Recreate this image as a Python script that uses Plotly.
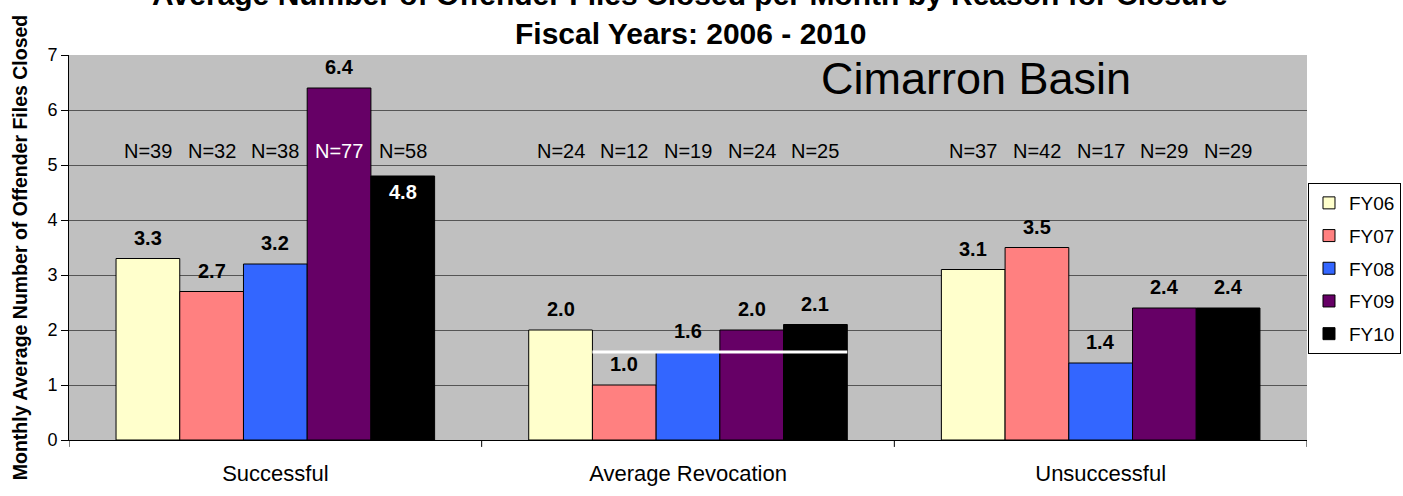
import plotly.graph_objects as go

categories = ["Successful", "Average Revocation", "Unsuccessful"]
series_names = ["FY06", "FY07", "FY08", "FY09", "FY10"]
colors = ["#FFFFCC", "#FF8080", "#3366FF", "#660066", "#000000"]
values = {
    "FY06": [3.3, 2.0, 3.1],
    "FY07": [2.7, 1.0, 3.5],
    "FY08": [3.2, 1.6, 1.4],
    "FY09": [6.4, 2.0, 2.4],
    "FY10": [4.8, 2.1, 2.4],
}
n_counts = {
    "FY06": [39, 24, 37],
    "FY07": [32, 12, 42],
    "FY08": [38, 19, 17],
    "FY09": [77, 24, 29],
    "FY10": [58, 25, 29],
}
# value labels drawn inside the bar top (white) instead of above it
inside_labels = {("FY10", 0)}
n_label_y = 5.25
avg_line_value = 1.6

FONT = "Liberation Sans, Arial, sans-serif"
bargap = 0.228
nser = len(series_names)
bw = (1 - bargap) / nser

fig = go.Figure()
for i, s in enumerate(series_names):
    fig.add_trace(go.Bar(
        name=s, x=list(range(len(categories))), y=values[s],
        marker=dict(color=colors[i], line=dict(color="black", width=1)),
        legendgroup=s,
    ))

annotations = []
for i, s in enumerate(series_names):
    off = -(1 - bargap) / 2 + bw * (i + 0.5)
    for j, v in enumerate(values[s]):
        xc = j + off
        inside = (s, j) in inside_labels
        annotations.append(dict(x=xc, y=v, xref="x", yref="y", text=f"<b>{v:.1f}</b>",
                                showarrow=False, xanchor="center", yanchor="middle",
                                yshift=-16 if inside else 21,
                                font=dict(family=FONT, size=20, color="white" if inside else "black")))
        over_bar = v > n_label_y
        annotations.append(dict(x=xc, y=n_label_y, xref="x", yref="y", text=f"N={n_counts[s][j]}",
                                showarrow=False, xanchor="center", yanchor="middle",
                                font=dict(family=FONT, size=20,
                                          color="white" if over_bar else "black")))

annotations.append(dict(x=0.502, y=1.158, xref="paper", yref="paper",
                        text="<b>Average Number of Offender Files Closed per Month by Reason for Closure</b>",
                        showarrow=False, xanchor="center", yanchor="middle",
                        font=dict(family=FONT, size=30, color="black")))
annotations.append(dict(x=0.502, y=1.057, xref="paper", yref="paper",
                        text="<b>Fiscal Years: 2006 - 2010</b>",
                        showarrow=False, xanchor="center", yanchor="middle",
                        font=dict(family=FONT, size=30, color="black")))
annotations.append(dict(x=0.733, y=0.940, xref="paper", yref="paper", text="Cimarron Basin",
                        showarrow=False, xanchor="center", yanchor="middle",
                        font=dict(family=FONT, size=45, color="black")))

shapes = []
# white line across Average Revocation group
x0 = 1 - (1 - bargap) / 2 + bw
x1 = 1 + (1 - bargap) / 2
shapes.append(dict(type="line", xref="x", yref="y", x0=x0, x1=x1, y0=avg_line_value, y1=avg_line_value,
                   line=dict(color="white", width=3)))
for b in [-0.5, 0.5, 1.5, 2.5]:
    shapes.append(dict(type="line", xref="x", yref="paper", x0=b, x1=b, y0=0, y1=-0.018,
                       line=dict(color="black", width=1)))

fig.update_layout(
    width=1403, height=496,
    margin=dict(l=69, r=96, t=55, b=56, autoexpand=False),
    paper_bgcolor="white", plot_bgcolor="#C0C0C0",
    barmode="group", bargap=bargap, bargroupgap=0,
    showlegend=True,
    legend=dict(x=1.0008, xanchor="left", y=0.6675, yanchor="top",
                bordercolor="black", borderwidth=1, bgcolor="white",
                tracegroupgap=5,
                font=dict(family=FONT, size=19, color="black")),
    xaxis=dict(tickmode="array", tickvals=list(range(len(categories))), ticktext=categories,
               range=[-0.5, 2.5], showgrid=False, showline=True, linecolor="black", linewidth=1,
               ticks="outside", ticklen=14, tickcolor="rgba(0,0,0,0)", automargin=False,
               tickfont=dict(family=FONT, size=22, color="black")),
    yaxis=dict(range=[0, 7], dtick=1, tick0=0, showgrid=True, gridcolor="#555555", gridwidth=1,
               showline=True, linecolor="black", linewidth=1, ticks="outside", ticklen=7,
               tickcolor="black", zeroline=False, automargin=False,
               tickfont=dict(family=FONT, size=18, color="black"),
               title=dict(text="<b>Monthly Average Number of Offender Files Closed</b>", standoff=14,
                          font=dict(family=FONT, size=19.5, color="black"))),
    annotations=annotations, shapes=shapes,
)

fig.write_html("out.html", config={"displayModeBar": False},
               post_script="document.body.style.margin='0px';document.body.style.overflow='hidden';")
